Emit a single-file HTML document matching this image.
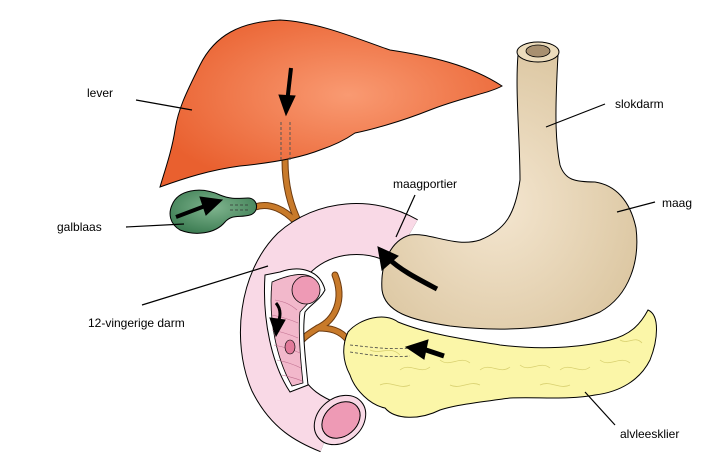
<!DOCTYPE html>
<html><head><meta charset="utf-8"><style>
html,body{margin:0;padding:0;background:#fff;}
svg{display:block;}
text{font-family:"Liberation Sans",sans-serif;font-size:12px;fill:#000;}
</style></head><body>
<svg width="711" height="476" viewBox="0 0 711 476" xmlns="http://www.w3.org/2000/svg">
<defs>
<radialGradient id="lv" cx="0.55" cy="0.45" r="0.6"><stop offset="0" stop-color="#f99a72"/><stop offset="1" stop-color="#e9602f"/></radialGradient>
<radialGradient id="st" cx="0.45" cy="0.55" r="0.6"><stop offset="0" stop-color="#f4e6d0"/><stop offset="1" stop-color="#dcc7a2"/></radialGradient>
<radialGradient id="gb" cx="0.5" cy="0.4" r="0.6"><stop offset="0" stop-color="#7fb48e"/><stop offset="1" stop-color="#3f7f55"/></radialGradient>
</defs>
<!-- bile ducts -->
<g fill="none" stroke="#6b3a10" stroke-width="7" stroke-linecap="round">
<path d="M285,160 C285,185 290,205 300,225"/>
<path d="M255,207 C270,202 285,210 296,222"/>
<path d="M335,275 C345,300 335,320 318,328 C310,333 302,338 298,345"/>
<path d="M318,328 C330,328 340,330 348,340"/>
</g>
<g fill="none" stroke="#c87a2a" stroke-width="5" stroke-linecap="round">
<path d="M285,160 C285,185 290,205 300,225"/>
<path d="M255,207 C270,202 285,210 296,222"/>
<path d="M335,275 C345,300 335,320 318,328 C310,333 302,338 298,345"/>
<path d="M318,328 C330,328 340,330 348,340"/>
</g>
<!-- liver -->
<path d="M160,187 C165,170 172,150 175,130 C178,110 185,95 200,65 C215,35 240,22 280,20 C320,22 360,40 390,50 C430,56 470,65 502,86 C490,93 460,98 430,110 C400,122 370,130 355,133 C345,140 335,145 320,150 C300,158 270,163 240,166 C210,170 185,178 160,187 Z" fill="url(#lv)" stroke="#000" stroke-width="1"/>
<path d="M281,122 L281,162 M290,122 L290,162" stroke="#555" stroke-width="1" stroke-dasharray="3,2"/>
<!-- gallbladder -->
<path d="M172,205 C178,190 200,186 220,195 C232,200 240,198 248,198 C258,198 260,212 250,215 C240,218 232,214 225,222 C215,234 195,236 180,230 C170,224 168,214 172,205 Z" fill="url(#gb)" stroke="#000" stroke-width="1"/>
<path d="M230,205 L250,205 M230,210 L250,210" stroke="#333" stroke-width="0.8" stroke-dasharray="3,2"/>
<!-- duodenum -->
<path d="M405,242 C370,222 325,225 295,252 C265,282 258,340 275,380 C290,410 310,420 330,428" fill="none" stroke="#000" stroke-width="52" stroke-linecap="butt"/>
<path d="M405,242 C370,222 325,225 295,252 C265,282 258,340 275,380 C290,410 310,420 330,428" fill="none" stroke="#f9d9e6" stroke-width="50" stroke-linecap="butt"/>
<!-- cut open section -->
<path d="M265,275 L280,272 C300,265 320,270 325,290 C320,300 310,305 305,312 C302,330 305,355 308,385 L290,392 C272,365 262,320 265,275 Z" fill="#fff" stroke="#000" stroke-width="1"/>
<path d="M272,282 C300,270 316,272 320,290 C312,300 305,306 300,312 C298,330 300,355 303,383 L292,386 C277,360 268,320 272,282 Z" fill="#f2b8cb" stroke="#000" stroke-width="0.8"/>
<ellipse cx="306" cy="290" rx="14" ry="14" fill="#ee9ab5" stroke="#000" stroke-width="0.8"/>
<g stroke="#c07090" stroke-width="0.6" fill="none">
<path d="M275,300 c10,2 15,4 22,10 M272,315 c10,2 17,4 26,8 M272,330 c10,2 17,4 26,8 M274,345 c10,2 17,4 26,8 M277,360 c10,2 16,4 24,8 M282,375 c8,2 14,3 20,6"/>
</g>
<ellipse cx="290" cy="347" rx="5" ry="7" fill="#e27a9a" stroke="#000" stroke-width="0.6"/>
<!-- end opening -->
<ellipse cx="340" cy="420" rx="28" ry="22" transform="rotate(-40 340 420)" fill="#f9d9e6" stroke="#000" stroke-width="1"/>
<ellipse cx="341" cy="420" rx="21" ry="16" transform="rotate(-40 341 420)" fill="#ee9ab5" stroke="#000" stroke-width="1"/>
<!-- esophagus + stomach -->
<path d="M518,55 C515,90 520,140 520,180 C515,215 505,230 480,240 C455,248 430,232 410,235 C392,240 380,262 382,290 C385,312 410,320 450,326 C500,332 560,330 600,312 C630,295 640,260 636,228 C630,200 615,185 595,182 C575,182 565,180 560,165 C555,140 555,110 558,55 Z" fill="url(#st)" stroke="#000" stroke-width="1"/>
<ellipse cx="538" cy="52" rx="21" ry="10" fill="#ecdcbc" stroke="#000" stroke-width="1"/>
<ellipse cx="538" cy="51" rx="12" ry="6" fill="#a89070" stroke="#000" stroke-width="0.8"/>
<!-- pancreas -->
<path d="M348,332 C360,318 385,312 398,322 C430,335 470,340 500,345 C540,350 580,348 610,340 C630,335 640,325 648,310 C660,315 658,340 650,360 C640,380 620,392 595,395 C570,400 540,397 510,398 C480,402 455,405 440,410 C420,420 395,420 385,408 C370,405 355,390 350,375 C342,360 342,345 348,332 Z" fill="#fbf6a8" stroke="#000" stroke-width="1"/>
<g fill="none" stroke="#d8d070" stroke-width="0.8">
<path d="M370,350 c10,5 20,-5 30,5 M400,370 c10,-8 20,5 30,-3 M440,360 c10,8 20,-5 30,3 M480,370 c10,-8 20,5 30,-3 M520,365 c10,8 20,-5 30,3 M560,370 c10,-8 20,5 30,-3 M600,360 c10,8 20,-5 30,3 M380,385 c10,-5 20,5 30,0 M450,385 c10,5 20,-5 30,0 M620,340 c8,5 15,-5 22,3 M540,385 c10,-5 20,5 30,0"/>
</g>
<path d="M350,345 C370,347 390,350 410,348 M350,352 C370,355 390,358 410,356" stroke="#444" stroke-width="0.8" stroke-dasharray="3,2" fill="none"/>
<!-- arrows -->
<g fill="#000" stroke="#000">
<path d="M291,68 L287,103" stroke-width="4"/><path d="M279,95 L286,115 L295,96 Z"/>
<path d="M176,217 L205,206" stroke-width="4"/><path d="M200,197 L222,200 L206,215 Z"/>
<path d="M437,289 C420,280 400,270 388,258" stroke-width="5" fill="none"/><path d="M378,247 L382,270 L398,256 Z"/>
<path d="M444,356 L423,349" stroke-width="5"/><path d="M428,340 L406,347 L424,359 Z"/>
<path d="M276,303 C282,310 280,318 278,322" stroke-width="3" fill="none"/><path d="M270,318 L276,336 L285,320 Z"/>
</g>
<!-- labels -->
<g stroke="#000" stroke-width="1.2">
<line x1="136" y1="100" x2="192" y2="110"/>
<line x1="126" y1="227" x2="184" y2="224"/>
<line x1="605" y1="104" x2="546" y2="127"/>
<line x1="415" y1="195" x2="396" y2="237"/>
<line x1="655" y1="202" x2="617" y2="212"/>
<line x1="142" y1="305" x2="268" y2="266"/>
<line x1="615" y1="425" x2="585" y2="392"/>
</g>
<text x="87" y="97">lever</text>
<text x="57" y="231">galblaas</text>
<text x="615" y="108">slokdarm</text>
<text x="393" y="188">maagportier</text>
<text x="662" y="207">maag</text>
<text x="88" y="327">12-vingerige darm</text>
<text x="620" y="438">alvleesklier</text>
</svg>
</body></html>
